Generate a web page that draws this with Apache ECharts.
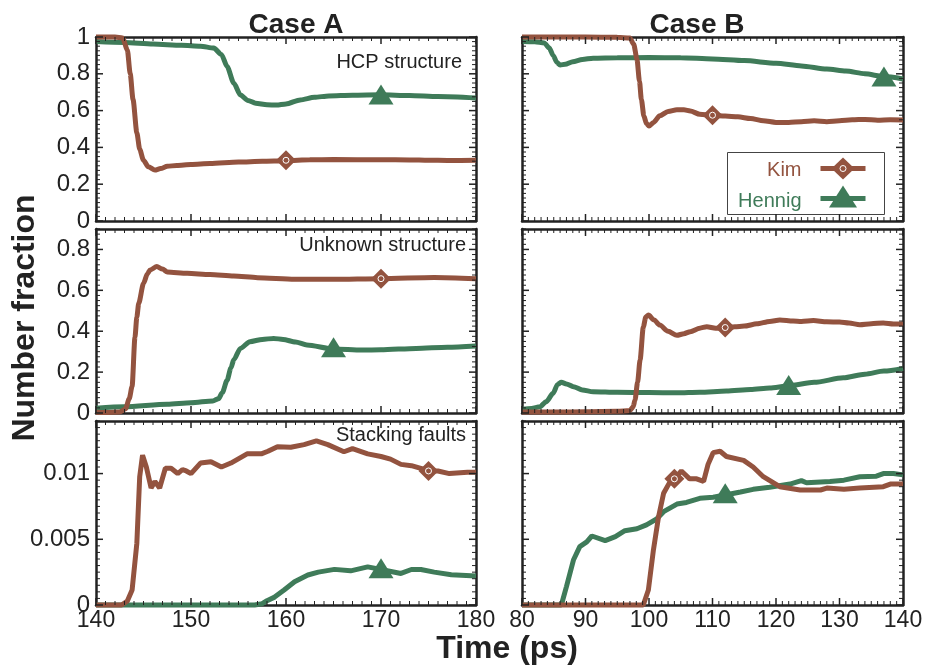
<!DOCTYPE html>
<html>
<head>
<meta charset="utf-8">
<script src="https://cdn.jsdelivr.net/npm/echarts@6/dist/echarts.min.js"></script>
<style>
html,body{margin:0;padding:0;background:#fff;}
#chart{width:929px;height:665px;}
</style>
</head>
<body>
<div id="chart"></div>
<script>
// ---------- DATA ----------
const xTicksA = [140, 150, 160, 170, 180];
const xTicksB = [80, 90, 100, 110, 120, 130, 140];
const caseTitles = ['Case A', 'Case B'];
const panelLabels = ['HCP structure', 'Unknown structure', 'Stacking faults'];
const seriesNames = ['Kim', 'Hennig'];

// Case A — HCP structure
const aHcpKim = [[140,1.0],[141,1.0],[142,1.0],[142.8,0.995],[143.3,0.93],[143.6,0.80],[143.9,0.66],[144.3,0.48],[144.6,0.39],[145,0.33],[145.5,0.295],[146.2,0.277],[146.8,0.285],[147.5,0.297],[148.5,0.302],[150,0.307],[152,0.312],[155,0.32],[157.5,0.325],[160,0.328],[162.5,0.333],[165,0.334],[170,0.333],[173,0.332],[175,0.330],[177,0.329],[180,0.330]];
const aHcpHen = [[140,0.975],[143,0.97],[146,0.962],[149,0.955],[151,0.95],[152.4,0.94],[153.2,0.905],[153.8,0.84],[154.5,0.75],[155.2,0.685],[156,0.655],[156.8,0.64],[158,0.632],[159,0.63],[160,0.636],[161.5,0.658],[163,0.672],[164.5,0.68],[167,0.684],[170,0.686],[173,0.682],[176,0.676],[180,0.668]];
// Case B — HCP structure
const bHcpKim = [[80,1.0],[85,1.0],[90,1.0],[95,0.998],[97,0.995],[97.6,0.96],[98.1,0.88],[98.5,0.76],[98.8,0.66],[99.2,0.57],[99.6,0.53],[100,0.516],[100.7,0.535],[101.7,0.572],[103,0.595],[104.4,0.605],[105.5,0.604],[106.5,0.598],[108,0.58],[110,0.574],[112,0.57],[114,0.566],[116,0.557],[118,0.545],[120,0.536],[122,0.535],[124,0.54],[126,0.545],[128,0.54],[130,0.545],[132,0.55],[134,0.552],[136,0.548],[138,0.55],[140,0.549]];
const bHcpHen = [[80,0.975],[82,0.974],[83.5,0.968],[84.3,0.94],[84.9,0.90],[85.5,0.862],[86,0.848],[86.8,0.852],[88,0.866],[89.5,0.878],[91.2,0.885],[95,0.887],[100,0.888],[105,0.887],[110,0.881],[115,0.872],[120,0.857],[124,0.843],[128,0.826],[131,0.815],[134,0.80],[137,0.785],[140,0.772]];
// Case A — Unknown structure
const aUnkKim = [[140,0.004],[141,0.003],[142.5,0.005],[143.1,0.02],[143.5,0.07],[143.8,0.13],[144.1,0.37],[144.3,0.47],[144.5,0.537],[145,0.634],[145.4,0.68],[145.7,0.70],[146.4,0.716],[147,0.704],[147.5,0.69],[149.6,0.683],[152,0.677],[154.5,0.67],[157,0.662],[160.9,0.654],[165,0.654],[170,0.657],[175.6,0.663],[180,0.657]];
const aUnkHen = [[140,0.023],[143,0.03],[147.5,0.0425],[150,0.05],[152.3,0.059],[152.9,0.07],[153.3,0.10],[153.8,0.16],[154.2,0.22],[154.5,0.26],[155.2,0.316],[156.2,0.349],[157.5,0.36],[158.7,0.365],[159.7,0.36],[161,0.347],[162.2,0.333],[165,0.313],[168,0.308],[170,0.309],[173.7,0.316],[177,0.322],[180,0.328]];
// Case B — Unknown structure
const bUnkKim = [[80,0.005],[85,0.005],[90,0.006],[95,0.008],[97,0.012],[97.5,0.03],[97.8,0.064],[98.2,0.15],[98.6,0.26],[99.1,0.42],[99.5,0.47],[99.9,0.479],[100.8,0.455],[101.7,0.43],[103,0.40],[104.4,0.38],[105.5,0.388],[106.5,0.398],[108,0.415],[109.1,0.422],[110.5,0.415],[112,0.417],[113.5,0.422],[115,0.425],[117,0.436],[119,0.448],[120.6,0.455],[122.7,0.45],[124,0.448],[125.9,0.452],[128,0.446],[130,0.445],[131.5,0.44],[133.2,0.432],[135,0.437],[136.9,0.44],[138.5,0.435],[140,0.437]];
const bUnkHen = [[80,0.018],[81.5,0.022],[82.8,0.03],[83.8,0.055],[84.9,0.096],[85.6,0.14],[86.2,0.15],[87,0.142],[88.1,0.129],[89.5,0.113],[91.2,0.104],[95,0.101],[100,0.1],[104.4,0.099],[108,0.102],[112.2,0.107],[116,0.115],[119,0.122],[122,0.133],[126,0.15],[130.6,0.172],[134,0.19],[137,0.205],[140,0.218]];
// Case A — Stacking faults
const aSfKim = [[140,0],[142.7,0],[143.3,0.0003],[143.8,0.00114],[144.3,0.0047],[144.6,0.00976],[144.9,0.0114],[145.3,0.0105],[145.8,0.0089],[146.2,0.0094],[146.7,0.0089],[147.3,0.0104],[147.9,0.0104],[148.6,0.0100],[149.1,0.0103],[149.5,0.0102],[150,0.0100],[151,0.0108],[152.1,0.0109],[153.2,0.0105],[154.2,0.0108],[155.9,0.0115],[157.4,0.0115],[158.1,0.0117],[159.1,0.01205],[160.5,0.0120],[161.9,0.0122],[163.2,0.01248],[164.4,0.0122],[166.1,0.01166],[167,0.0119],[168.6,0.0115],[170,0.0113],[171,0.0111],[172.1,0.0107],[173.2,0.0106],[175.1,0.0102],[176,0.0102],[177.2,0.0100],[179.1,0.0101],[180,0.0101]];
const aSfHen = [[140,0],[156.7,0],[157.5,0.0001],[158,0.00033],[158.8,0.0006],[159.8,0.00114],[160.9,0.00177],[162.3,0.00228],[163.4,0.0025],[165.1,0.00271],[166.8,0.0026],[168.6,0.0029],[170,0.0027],[172.1,0.0024],[173.2,0.0027],[174.2,0.0027],[175.6,0.0025],[177.4,0.0023],[180,0.0022]];
// Case B — Stacking faults
const bSfKim = [[80,0],[99.1,0],[99.9,0.00114],[100.7,0.0042],[101.5,0.0067],[102.3,0.0085],[103.1,0.0092],[104.1,0.00964],[105.1,0.0102],[106.4,0.0096],[107.5,0.0096],[108.6,0.0094],[109.3,0.0107],[110.1,0.01159],[111.2,0.0117],[112.2,0.0113],[114.9,0.0110],[116.4,0.0105],[118,0.00976],[120.6,0.0090],[123.8,0.00875],[127,0.00875],[128,0.0089],[130.7,0.0088],[133.2,0.0089],[136.9,0.0090],[138,0.0092],[140,0.0092]];
const bSfHen = [[80,0],[86.2,0],[87,0.0014],[88.1,0.00342],[89.1,0.00444],[90.2,0.0048],[91,0.00525],[93.1,0.0049],[94.7,0.0052],[96.2,0.00565],[98.1,0.0058],[99.6,0.0061],[101.2,0.00654],[102.3,0.0071],[104.4,0.00768],[105.9,0.0078],[108,0.00812],[110.1,0.0082],[112,0.00837],[114.4,0.0086],[116.4,0.0088],[119,0.00896],[122.2,0.0092],[124,0.00946],[124.8,0.0093],[128.5,0.0094],[130.7,0.0095],[133.2,0.00976],[135.8,0.0098],[136.9,0.0100],[138.5,0.0100],[140,0.0099]];

// single markers on each curve [time, value]
const markKim = [[160,0.33],[110,0.575],[170,0.657],[112,0.418],[175,0.0102],[104,0.0096]];
const markHen = [[170,0.687],[137,0.785],[165,0.322],[122,0.137],[170,0.0028],[112,0.0085]];

// y ranges per row: [max, interval, minor splits]
const yRows = [[1, 0.2, 8], [0.9, 0.2, 8], [0.014, 0.005, 10]];

// ---------- STYLE ----------
const BROWN = '#93533f';
const GREEN = '#3f7b59';
const INK = '#222';
const FONT = '"Liberation Sans", Arial, Helvetica, sans-serif';

const panelKim = [aHcpKim, bHcpKim, aUnkKim, bUnkKim, aSfKim, bSfKim];
const panelHen = [aHcpHen, bHcpHen, aUnkHen, bUnkHen, aSfHen, bSfHen];

const colLeft = [96, 522], colWidth = [380, 381];
const rowTop = [37, 229, 421], rowHeight = 184;

const grids = [], xAxes = [], yAxes = [], series = [], panelRanges = [];

function isMultiple(v, step) {
  const r = v / step;
  return Math.abs(r - Math.round(r)) < 1e-6;
}

function axisParts() {
  return {
    axisLine: {show: true, onZero: false, lineStyle: {color: INK, width: 2.5}},
    axisTick: {show: false},
    minorTick: {show: false},
    splitLine: {show: false}
  };
}

for (let r = 0; r < 3; r++) {
  for (let c = 0; c < 2; c++) {
    const gi = r * 2 + c;
    grids.push({left: colLeft[c], top: rowTop[r], width: colWidth[c], height: rowHeight});
    const xmin = c === 0 ? xTicksA[0] : xTicksB[0];
    const xmax = c === 0 ? xTicksA[xTicksA.length - 1] : xTicksB[xTicksB.length - 1];
    const [ymax, yint, ysplit] = yRows[r];
    panelRanges.push({xmin, xmax, ymax, yint, ysplit});
    ['bottom', 'top'].forEach((pos) => {
      xAxes.push(Object.assign({
        type: 'value', gridIndex: gi, position: pos, min: xmin, max: xmax, interval: 10,
        axisLabel: {show: pos === 'bottom' && r === 2, fontSize: 23, color: INK, fontFamily: FONT, margin: 4}
      }, axisParts()));
    });
    ['left', 'right'].forEach((pos) => {
      yAxes.push(Object.assign({
        type: 'value', gridIndex: gi, position: pos, min: 0, max: ymax, interval: yint,
        axisLabel: {show: pos === 'left' && c === 0, fontSize: 24, color: INK, fontFamily: FONT, margin: 6,
          formatter: (v) => isMultiple(v, yint) ? String(+v.toFixed(4)) : ''}
      }, axisParts()));
    });
    const smooth = r < 2 ? 0.25 : false;
    series.push({
      name: seriesNames[1], type: 'line', xAxisIndex: gi * 2, yAxisIndex: gi * 2,
      data: panelHen[gi], showSymbol: false, smooth: smooth, smoothMonotone: 'x',
      clip: false, lineStyle: {color: GREEN, width: 5}, itemStyle: {color: GREEN}, silent: true
    });
    series.push({
      name: seriesNames[0], type: 'line', xAxisIndex: gi * 2, yAxisIndex: gi * 2,
      data: panelKim[gi], showSymbol: false, smooth: smooth, smoothMonotone: 'x',
      clip: false, lineStyle: {color: BROWN, width: 5}, itemStyle: {color: BROWN}, silent: true
    });
    series.push({
      name: 'Hennig marker', type: 'scatter', xAxisIndex: gi * 2, yAxisIndex: gi * 2,
      data: [markHen[gi]], symbol: 'triangle', symbolSize: [25, 20], itemStyle: {color: GREEN, opacity: 1},
      z: 4, silent: true
    });
    series.push({
      name: 'Kim marker', type: 'scatter', xAxisIndex: gi * 2, yAxisIndex: gi * 2,
      data: [markKim[gi]], symbol: 'diamond', symbolSize: 20, itemStyle: {color: BROWN, opacity: 1},
      z: 4, silent: true
    });
    series.push({
      name: 'ring', type: 'scatter', xAxisIndex: gi * 2, yAxisIndex: gi * 2,
      data: [markKim[gi]], symbol: 'circle', symbolSize: 6,
      itemStyle: {color: 'rgba(0,0,0,0)', borderColor: '#ffffff', borderWidth: 1, opacity: 1}, z: 5, silent: true
    });
  }
}

// legend (upper-right panel)
const legendEls = {
  type: 'group', left: 727, top: 152, silent: true, z: 50,
  children: [
    {type: 'rect', shape: {x: 0, y: 0, width: 157, height: 62}, style: {fill: '#fff', stroke: '#444', lineWidth: 1}},
    {type: 'text', x: 74, y: 18, style: {text: seriesNames[0], font: '20px ' + FONT, fill: BROWN, align: 'right', verticalAlign: 'middle'}},
    {type: 'text', x: 74, y: 49, style: {text: seriesNames[1], font: '20px ' + FONT, fill: GREEN, align: 'right', verticalAlign: 'middle'}},
    {type: 'line', shape: {x1: 93, y1: 16, x2: 138, y2: 16}, style: {stroke: BROWN, lineWidth: 5}},
    {type: 'polygon', shape: {points: [[115.5, 5], [127, 16], [115.5, 27], [104, 16]]}, style: {fill: BROWN}},
    {type: 'circle', shape: {cx: 115.5, cy: 16, r: 3}, style: {fill: 'none', stroke: '#fff', lineWidth: 1}},
    {type: 'line', shape: {x1: 93, y1: 46, x2: 138, y2: 46}, style: {stroke: GREEN, lineWidth: 5}},
    {type: 'polygon', shape: {points: [[115.5, 33], [129.5, 55], [101.5, 55]]}, style: {fill: GREEN}}
  ]
};

const textEls = [
  {type: 'text', x: 296, y: 25, style: {text: caseTitles[0], font: 'bold 28px ' + FONT, fill: INK, align: 'center', verticalAlign: 'middle'}},
  {type: 'text', x: 697, y: 25, style: {text: caseTitles[1], font: 'bold 28px ' + FONT, fill: INK, align: 'center', verticalAlign: 'middle'}},
  {type: 'text', x: 462, y: 62, style: {text: panelLabels[0], font: '20px ' + FONT, fill: INK, align: 'right', verticalAlign: 'middle'}},
  {type: 'text', x: 466, y: 245, style: {text: panelLabels[1], font: '20px ' + FONT, fill: INK, align: 'right', verticalAlign: 'middle'}},
  {type: 'text', x: 466, y: 435, style: {text: panelLabels[2], font: '20px ' + FONT, fill: INK, align: 'right', verticalAlign: 'middle'}},
  {type: 'text', x: 507, y: 649, style: {text: 'Time (ps)', font: 'bold 32px ' + FONT, fill: INK, align: 'center', verticalAlign: 'middle'}},
  {type: 'text', x: 25, y: 318, rotation: Math.PI / 2, style: {text: 'Number fraction', font: 'bold 32px ' + FONT, fill: INK, align: 'center', verticalAlign: 'middle'}},
  legendEls
];

const chart = echarts.init(document.getElementById('chart'), null, {renderer: 'canvas'});
chart.setOption({
  animation: false,
  grid: grids,
  xAxis: xAxes,
  yAxis: yAxes,
  graphic: textEls,
  series: series
});

// inward tick marks on all four sides, positioned through each grid's own scales
const tickEls = [];
function tickLine(x1, y1, x2, y2, major) {
  tickEls.push({type: 'line', silent: true, z: 40,
    shape: {x1: x1, y1: y1, x2: x2, y2: y2},
    style: {stroke: INK, lineWidth: major ? 1.5 : 1}});
}
panelRanges.forEach((p, gi) => {
  const finder = {xAxisIndex: gi * 2, yAxisIndex: gi * 2};
  for (let t = p.xmin; t <= p.xmax + 1e-9; t += 1) {
    const major = (t - p.xmin) % 10 === 0;
    const len = major ? 7 : 4;
    const pb = chart.convertToPixel(finder, [t, 0]);
    const pt = chart.convertToPixel(finder, [t, p.ymax]);
    if (!pb || !pt) continue;
    tickLine(pb[0], pb[1], pb[0], pb[1] - len, major);
    tickLine(pt[0], pt[1], pt[0], pt[1] + len, major);
  }
  const step = p.yint / p.ysplit;
  const n = Math.round(p.ymax / step);
  for (let k = 0; k <= n; k++) {
    const v = +(k * step).toFixed(6);
    const major = k % p.ysplit === 0;
    const len = major ? 7 : 4;
    const pl = chart.convertToPixel(finder, [p.xmin, v]);
    const pr = chart.convertToPixel(finder, [p.xmax, v]);
    if (!pl || !pr) continue;
    tickLine(pl[0], pl[1], pl[0] + len, pl[1], major);
    tickLine(pr[0], pr[1], pr[0] - len, pr[1], major);
  }
});
chart.setOption({graphic: textEls.concat(tickEls)});
</script>
</body>
</html>
